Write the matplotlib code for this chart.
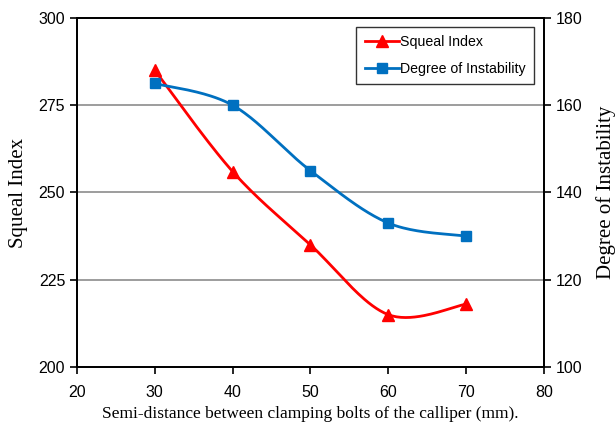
import numpy as np
import matplotlib
matplotlib.use("Agg")
import matplotlib.pyplot as plt
from matplotlib.lines import Line2D

# ---- data ----
x_vals = [30, 40, 50, 60, 70]
squeal_index = [285, 256, 235, 215, 218]
degree_instability = [165, 160, 145, 133, 130]
x_ticks = [20, 30, 40, 50, 60, 70, 80]
left_ticks = [200, 225, 250, 275, 300]
right_ticks = [100, 120, 140, 160, 180]

RED = "#FF0000"
BLUE = "#0070C0"
SANS = ["Liberation Sans", "DejaVu Sans"]
SERIF = ["Liberation Serif", "DejaVu Serif"]


def smooth(xs, ys, n=40):
    """Catmull-Rom (Excel-like) smoothing for drawing the line through the points."""
    P = np.column_stack([xs, ys]).astype(float)
    pts = []
    for i in range(len(P) - 1):
        p0 = P[i - 1] if i > 0 else P[i]
        p1 = P[i]
        p2 = P[i + 1]
        p3 = P[i + 2] if i + 2 < len(P) else P[i + 1]
        c1 = p1 + (p2 - p0) / 6.0
        c2 = p2 - (p3 - p1) / 6.0
        t = np.linspace(0, 1, n)[:, None]
        seg = ((1 - t) ** 3) * p1 + 3 * ((1 - t) ** 2) * t * c1 + 3 * (1 - t) * t ** 2 * c2 + t ** 3 * p2
        pts.append(seg if i == 0 else seg[1:])
    S = np.vstack(pts)
    return S[:, 0], S[:, 1]


fig = plt.figure(figsize=(6.16, 4.44), dpi=100)
ax = fig.add_axes([0.125, 0.1734, 0.758, 0.7861])
ax2 = ax.twinx()

ax.set_xlim(20, 80)
ax.set_ylim(200, 300)
ax2.set_ylim(100, 180)
ax.set_xticks(x_ticks)
ax.set_yticks(left_ticks)
ax2.set_yticks(right_ticks)

for v in left_ticks[1:-1]:
    ax.axhline(v, color="#8c8c8c", lw=1.2, zorder=0)

sx, sy = smooth(x_vals, squeal_index)
ax.plot(sx, sy, color=RED, lw=2.0, zorder=3)
ax.plot(x_vals, squeal_index, ls="none", marker="^", ms=8, color=RED, zorder=4)

bx, by = smooth(x_vals, degree_instability)
ax2.plot(bx, by, color=BLUE, lw=2.0, zorder=3)
ax2.plot(x_vals, degree_instability, ls="none", marker="s", ms=6.5, color=BLUE, zorder=4)

for a in (ax, ax2):
    for s in a.spines.values():
        s.set_color("black")
        s.set_linewidth(1.3)
    a.tick_params(direction="out", length=5, width=1.2, colors="black", labelsize=11.5)
    for lbl in a.get_xticklabels() + a.get_yticklabels():
        lbl.set_fontfamily(SANS)
ax.tick_params(axis="x", pad=8)

ax.set_xlabel("Semi-distance between clamping bolts of the calliper (mm).",
              family=SERIF, fontsize=12.5, labelpad=4)
ax.set_ylabel("Squeal Index", family=SERIF, fontsize=15)
ax2.set_ylabel("Degree of Instability", family=SERIF, fontsize=15)
ax.yaxis.set_label_coords(-0.104, 0.5)
ax2.yaxis.set_label_coords(1.112, 0.5)

handles = [
    Line2D([], [], color=RED, lw=2.0, marker="^", ms=8),
    Line2D([], [], color=BLUE, lw=2.0, marker="s", ms=6.5),
]
leg = ax2.legend(handles, ["Squeal Index", "Degree of Instability"],
                 loc="upper right", bbox_to_anchor=(0.985, 0.983),
                 prop={"family": SANS, "size": 10.2},
                 frameon=True, fancybox=False, edgecolor="black",
                 handlelength=2.4, handletextpad=0.1, borderpad=0.6,
                 labelspacing=0.9, borderaxespad=0.2)
leg.get_frame().set_linewidth(1.0)

fig.savefig("out.png", dpi=100)
